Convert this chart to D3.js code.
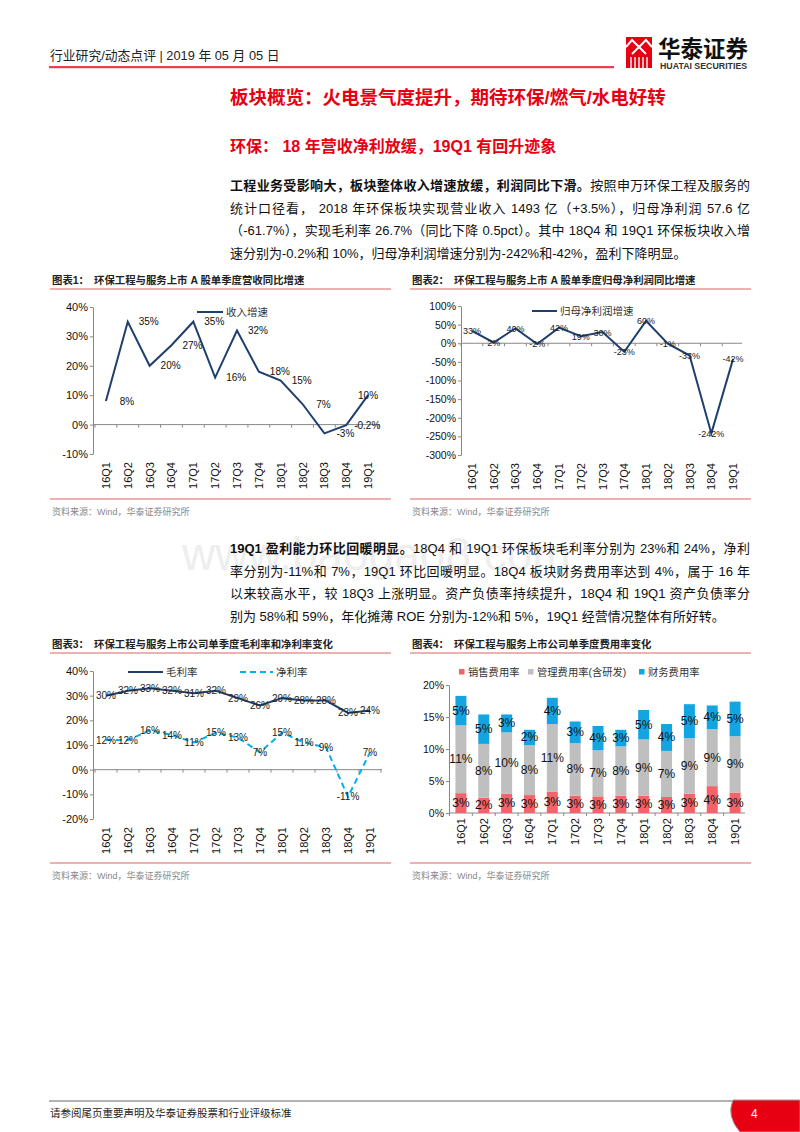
<!DOCTYPE html>
<html>
<head>
<meta charset="utf-8">
<script src="https://cdn.jsdelivr.net/npm/d3@7.9.0/dist/d3.min.js"></script>
<style>
  body { margin: 0; width: 800px; height: 1132px; position: relative; overflow: hidden; background: #fff;
         font-family: "Liberation Sans", "Noto Sans CJK SC", sans-serif; color: #111; }
  #page { position: absolute; left: 0; top: 0; }
  .para { position: absolute; left: 230px; width: 520px; font-size: 13px; line-height: 22.5px; }
  .para div { text-align: justify; text-align-last: justify; white-space: nowrap; }
  .para div.last { text-align-last: left; }
</style>
</head>
<body>
<svg id="page" width="800" height="1132"></svg>

<div class="para" style="top:175px">
  <div><b>工程业务受影响大，板块整体收入增速放缓，利润同比下滑。</b>按照申万环保工程及服务的</div>
  <div>统计口径看， 2018 年环保板块实现营业收入 1493 亿（+3.5%），归母净利润 57.6 亿</div>
  <div>（-61.7%），实现毛利率 26.7%（同比下降 0.5pct）。其中 18Q4 和 19Q1 环保板块收入增</div>
  <div class="last">速分别为-0.2%和 10%，归母净利润增速分别为-242%和-42%，盈利下降明显。</div>
</div>
<div class="para" style="top:538px">
  <div><b>19Q1 盈利能力环比回暖明显。</b>18Q4 和 19Q1 环保板块毛利率分别为 23%和 24%，净利</div>
  <div>率分别为-11%和 7%，19Q1 环比回暖明显。18Q4 板块财务费用率达到 4%，属于 16 年</div>
  <div>以来较高水平，较 18Q3 上涨明显。资产负债率持续提升，18Q4 和 19Q1 资产负债率分</div>
  <div class="last">别为 58%和 59%，年化摊薄 ROE 分别为-12%和 5%，19Q1 经营情况整体有所好转。</div>
</div>

<script>
// chart data
const quarters = ['16Q1', '16Q2', '16Q3', '16Q4', '17Q1', '17Q2', '17Q3', '17Q4', '18Q1', '18Q2', '18Q3', '18Q4', '19Q1'];
const revenueGrowth = [8, 35, 20, 27, 35, 16, 32, 18, 15, 7, -3, -0.2, 10];
const profitGrowth = [33, 2, 40, -2, 42, 19, 30, -23, 60, -1, -33, -242, -42];
const grossMargin = [30, 32, 33, 32, 31, 32, 29, 26, 29, 28, 28, 23, 24];
const netMargin = [12, 12, 16, 14, 11, 15, 13, 7, 15, 11, 9, -11, 7];
const salesExp = [3.1, 2.4, 3.0, 2.8, 3.3, 2.7, 2.6, 2.7, 2.7, 2.5, 3.0, 4.2, 3.2];
const adminExp = [10.6, 8.4, 9.6, 7.8, 10.6, 8.2, 7.2, 7.7, 8.8, 7.2, 8.7, 8.9, 8.8];
const financeExp = [4.6, 4.6, 2.8, 2.4, 4.1, 3.4, 3.8, 2.6, 4.6, 4.2, 5.3, 3.7, 5.4];

const ticks1 = [-10, 0, 10, 20, 30, 40];
const ticks2 = [-300, -250, -200, -150, -100, -50, 0, 50, 100];
const ticks3 = [-20, -10, 0, 10, 20, 30, 40];
const ticks4 = [0, 5, 10, 15, 20];

const RED = '#e60012';
const NAVY = '#1f3f6e';
const CYAN = '#00b0f0';
const svg = d3.select('#page');

const pct = (d) => (Number.isInteger(d) ? d : d.toFixed(1)) + '%';

// ---------- header ----------
svg.append('text').attr('x', 50).attr('y', 60).attr('font-size', 12.8).attr('fill', '#222')
  .text('行业研究/动态点评 | 2019 年 05 月 05 日');
svg.append('line').attr('x1', 49).attr('x2', 614).attr('y1', 67).attr('y2', 67)
  .attr('stroke', RED).attr('stroke-width', 1.6);
svg.append('line').attr('x1', 49).attr('x2', 614).attr('y1', 68.6).attr('y2', 68.6)
  .attr('stroke', '#ccc').attr('stroke-width', 0.8);

let logo = svg.append('g');
logo.append('rect').attr('x', 626).attr('y', 37).attr('width', 26).attr('height', 31).attr('fill', RED);
logo.append('path').attr('d', 'M626,47 L632,40 L639,47 L646,40 L652,47 M632,54 L639,47 L646,54')
  .attr('fill', 'none').attr('stroke', '#fff').attr('stroke-width', 2);
[631, 635, 639, 643, 647].forEach((x) => {
  logo.append('line').attr('x1', x).attr('x2', x).attr('y1', 57).attr('y2', 68)
    .attr('stroke', '#fff').attr('stroke-width', 1.4);
});
logo.append('text').attr('x', 658).attr('y', 57).attr('font-size', 22.5).attr('font-weight', 'bold')
  .attr('fill', '#111').text('华泰证券');
logo.append('text').attr('x', 660).attr('y', 68.5).attr('font-size', 8.8).attr('font-weight', 'bold')
  .attr('fill', '#333').text('HUATAI SECURITIES');

// ---------- titles ----------
svg.append('text').attr('x', 230).attr('y', 104).attr('font-size', 18.5).attr('font-weight', 'bold')
  .attr('fill', RED).text('板块概览：火电景气度提升，期待环保/燃气/水电好转');
svg.append('text').attr('x', 230).attr('y', 152).attr('font-size', 16).attr('font-weight', 'bold')
  .attr('fill', RED).text('环保： 18 年营收净利放缓，19Q1 有回升迹象');

// watermark
svg.append('text').attr('x', 182).attr('y', 570).attr('font-size', 46).attr('fill', '#eeeeee')
  .text('www.baogao8.com');

// ---------- chart frames ----------
function frame(x0, x1, top, bottom, num, title) {
  svg.append('text').attr('x', x0 + 2).attr('y', top).attr('font-size', 10.4).attr('font-weight', 'bold')
    .attr('fill', '#222').text('图表' + num + '：');
  svg.append('text').attr('x', x0 + 44).attr('y', top).attr('font-size', 10.4).attr('font-weight', 'bold')
    .attr('fill', '#222').text(title);
  svg.append('line').attr('x1', x0).attr('x2', x1).attr('y1', top + 5).attr('y2', top + 5)
    .attr('stroke', '#e36060').attr('stroke-width', 1);
  svg.append('line').attr('x1', x0).attr('x2', x1).attr('y1', bottom).attr('y2', bottom)
    .attr('stroke', '#e36060').attr('stroke-width', 1);
  svg.append('text').attr('x', x0 + 2).attr('y', bottom + 16).attr('font-size', 9).attr('fill', '#888')
    .text('资料来源：Wind，华泰证券研究所');
}
frame(50, 391, 284, 499, 1, '环保工程与服务上市 A 股单季度营收同比增速');
frame(410, 751, 284, 499, 2, '环保工程与服务上市 A 股单季度归母净利润同比增速');
frame(50, 391, 648, 863, 3, '环保工程与服务上市公司单季度毛利率和净利率变化');
frame(410, 751, 648, 863, 4, '环保工程与服务上市公司单季度费用率变化');

// ---------- shared axes ----------
function axes(g, x, y, ticks, opt) {
  const [bx0] = x.range();
  const yAxis = d3.axisLeft(y).tickValues(ticks).tickSize(3).tickSizeOuter(0)
    .tickFormat((d) => d + '%');
  const ya = g.append('g').attr('transform', `translate(${opt.axisX},0)`).call(yAxis);
  ya.select('.domain').attr('stroke', '#888');
  ya.selectAll('.tick line').attr('stroke', '#888');
  ya.selectAll('.tick text').attr('font-size', opt.tickFont).attr('fill', '#111')
    .attr('font-family', '"Liberation Sans", sans-serif').attr('x', -5);

  const y0 = y(0);
  g.append('line').attr('x1', opt.axisX).attr('x2', opt.axisEnd).attr('y1', y0).attr('y2', y0)
    .attr('stroke', '#888');
  d3.range(quarters.length + 1).forEach((i) => {
    const xx = bx0 + i * x.step();
    if (xx > opt.axisEnd + 1) return;
    g.append('line').attr('x1', xx).attr('x2', xx).attr('y1', y0).attr('y2', y0 + 3).attr('stroke', '#888');
  });
  quarters.forEach((q) => {
    const cx = x(q) + x.bandwidth() / 2;
    g.append('text').attr('transform', `translate(${cx + 4},${opt.labelY}) rotate(-90)`)
      .attr('text-anchor', 'end').attr('font-size', 11).attr('fill', '#111')
      .attr('font-family', '"Liberation Sans", sans-serif').text(q);
  });
}

function cx(x, q) { return x(q) + x.bandwidth() / 2; }

function lineLegend(g, x0, x1, yy, label, color, dash) {
  g.append('line').attr('x1', x0).attr('x2', x1).attr('y1', yy).attr('y2', yy)
    .attr('stroke', color).attr('stroke-width', 2).attr('stroke-dasharray', dash || null);
  g.append('text').attr('x', x1 + 3).attr('y', yy + 4).attr('font-size', 10.5).attr('fill', '#333')
    .text(label);
}

// ---------- chart 1 ----------
{
  const g = svg.append('g');
  const x = d3.scaleBand().domain(quarters).range([95, 379]).padding(0);
  const y = d3.scaleLinear().domain([-10, 40]).range([454, 307]);
  axes(g, x, y, ticks1, { axisX: 93, axisEnd: 380, tickFont: 11, labelY: 462 });
  const data = quarters.map((q, i) => ({ q, v: revenueGrowth[i] }));
  const line = d3.line().x((d) => cx(x, d.q)).y((d) => y(d.v));
  g.append('path').datum(data).attr('d', line).attr('fill', 'none').attr('stroke', NAVY).attr('stroke-width', 2);
  g.selectAll('.lbl').data(data).join('text')
    .attr('x', (d, i) => cx(x, d.q) + (i === data.length - 1 ? 0 : 21))
    .attr('y', (d) => y(d.v) + 3.5)
    .attr('text-anchor', 'middle').attr('font-size', 10).attr('fill', '#111').text((d) => pct(d.v));
  lineLegend(g, 197, 223, 312, '收入增速', NAVY);
}

// ---------- chart 2 ----------
{
  const g = svg.append('g');
  const x = d3.scaleBand().domain(quarters).range([461, 744]).padding(0);
  const y = d3.scaleLinear().domain([-300, 100]).range([455, 306]);
  axes(g, x, y, ticks2, { axisX: 461, axisEnd: 742, tickFont: 10.5, labelY: 463 });
  const data = quarters.map((q, i) => ({ q, v: profitGrowth[i] }));
  const line = d3.line().x((d) => cx(x, d.q)).y((d) => y(d.v));
  g.append('path').datum(data).attr('d', line).attr('fill', 'none').attr('stroke', NAVY).attr('stroke-width', 2);
  g.selectAll('.lbl').data(data).join('text')
    .attr('x', (d) => cx(x, d.q)).attr('y', (d) => y(d.v) + 3.5)
    .attr('text-anchor', 'middle').attr('font-size', 9).attr('fill', '#222').text((d) => pct(d.v));
  lineLegend(g, 532, 557, 311, '归母净利润增速', NAVY);
}

// ---------- chart 3 ----------
{
  const g = svg.append('g');
  const x = d3.scaleBand().domain(quarters).range([95, 381]).padding(0);
  const y = d3.scaleLinear().domain([-20, 40]).range([819, 671]);
  axes(g, x, y, ticks3, { axisX: 93, axisEnd: 382, tickFont: 11, labelY: 827 });
  const series = [
    { vals: grossMargin, color: NAVY, dash: null },
    { vals: netMargin, color: CYAN, dash: '6,4' },
  ];
  series.forEach((s) => {
    const data = quarters.map((q, i) => ({ q, v: s.vals[i] }));
    const line = d3.line().x((d) => cx(x, d.q)).y((d) => y(d.v));
    g.append('path').datum(data).attr('d', line).attr('fill', 'none').attr('stroke', s.color)
      .attr('stroke-width', 2).attr('stroke-dasharray', s.dash);
    g.selectAll(null).data(data).join('text')
      .attr('x', (d) => cx(x, d.q)).attr('y', (d) => y(d.v) + 3.5)
      .attr('text-anchor', 'middle').attr('font-size', 10).attr('fill', '#222').text((d) => pct(d.v));
  });
  lineLegend(g, 128, 163, 672, '毛利率', NAVY);
  lineLegend(g, 240, 273, 672, '净利率', CYAN, '6,4');
}

// ---------- chart 4 ----------
{
  const g = svg.append('g');
  const x = d3.scaleBand().domain(quarters).range([449.5, 746.5]).padding(0);
  const y = d3.scaleLinear().domain([0, 20]).range([813, 685]);
  axes(g, x, y, ticks4, { axisX: 449, axisEnd: 745, tickFont: 10.5, labelY: 818 });
  const keys = ['sales', 'admin', 'finance'];
  const colors = { sales: '#f3636a', admin: '#bfbfbf', finance: '#12a5e2' };
  const rows = quarters.map((q, i) => ({ q, sales: salesExp[i], admin: adminExp[i], finance: financeExp[i] }));
  const stack = d3.stack().keys(keys)(rows);
  stack.forEach((layer) => {
    g.selectAll(null).data(layer).join('rect')
      .attr('x', (d) => cx(x, d.data.q) - 5.5).attr('width', 11)
      .attr('y', (d) => y(d[1])).attr('height', (d) => y(d[0]) - y(d[1]))
      .attr('fill', colors[layer.key]);
  });
  stack.forEach((layer) => {
    g.selectAll(null).data(layer).join('text')
      .attr('x', (d) => cx(x, d.data.q)).attr('y', (d) => y((d[0] + d[1]) / 2) + 4)
      .attr('text-anchor', 'middle').attr('font-size', 12).attr('fill', '#111')
      .text((d) => d3.format('.0f')(d[1] - d[0]) + '%');
  });
  const legend = [
    { key: 'sales', label: '销售费用率', x: 459 },
    { key: 'admin', label: '管理费用率(含研发)', x: 528 },
    { key: 'finance', label: '财务费用率', x: 639 },
  ];
  legend.forEach((l) => {
    g.append('rect').attr('x', l.x).attr('y', 669).attr('width', 5.5).attr('height', 5.5).attr('fill', colors[l.key]);
    g.append('text').attr('x', l.x + 9).attr('y', 676).attr('font-size', 10.3).attr('fill', '#333').text(l.label);
  });
}

// ---------- footer ----------
svg.append('line').attr('x1', 49).attr('x2', 735).attr('y1', 1101).attr('y2', 1101)
  .attr('stroke', '#999').attr('stroke-width', 1.6);
svg.append('path').attr('d', 'M733,1100 L800,1100 L800,1132 L740,1132 Q726,1116 733,1100 Z')
  .attr('fill', RED).attr('stroke', '#999').attr('stroke-width', 1);
svg.append('text').attr('x', 751).attr('y', 1118).attr('font-size', 12).attr('fill', '#fff').text('4');
svg.append('text').attr('x', 50).attr('y', 1117).attr('font-size', 10.5).attr('fill', '#222')
  .text('请参阅尾页重要声明及华泰证券股票和行业评级标准');
</script>
</body>
</html>
